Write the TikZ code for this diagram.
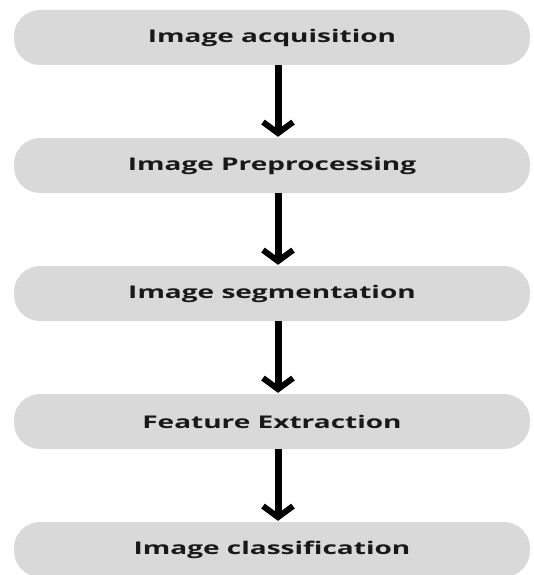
\documentclass[tikz,border=0pt]{standalone}
\usepackage{fontspec}
\setmainfont{Open Sans}
\usetikzlibrary{arrows.meta}
\definecolor{boxgray}{RGB}{217,217,217}
\definecolor{txt}{RGB}{25,25,25}
\tikzset{
  stepbox/.style={fill=boxgray, draw=none, rounded corners=26pt,
    minimum width=516pt, minimum height=55pt, inner sep=0pt,
    font=\bfseries\fontsize{17.5}{20}\selectfont, text=txt},
  flow/.style={line width=7pt, black,
    -{Straight Barb[length=11pt,width=30pt,line width=6pt]}, shorten >=1pt}
}
\newcommand{\wide}[1]{\raisebox{-2pt}{\scalebox{1.6}[1]{#1}}}
\begin{document}
\begin{tikzpicture}
\useasboundingbox (0,0) rectangle (534pt,-575pt);
\node[stepbox] (b1) at (272pt,-37.5pt) {\wide{Image acquisition}};
\node[stepbox] (b2) at (272pt,-165.5pt) {\wide{Image Preprocessing}};
\node[stepbox] (b3) at (272pt,-293.5pt) {\wide{Image segmentation}};
\node[stepbox] (b4) at (272pt,-421.5pt) {\wide{Feature Extraction}};
\node[stepbox] (b5) at (272pt,-549.5pt) {\wide{Image classification}};
\foreach \a/\b in {b1/b2,b2/b3,b3/b4,b4/b5}
  \draw[flow] ([xshift=6pt]\a.south) -- ([xshift=6pt]\b.north);
\end{tikzpicture}
\end{document}
